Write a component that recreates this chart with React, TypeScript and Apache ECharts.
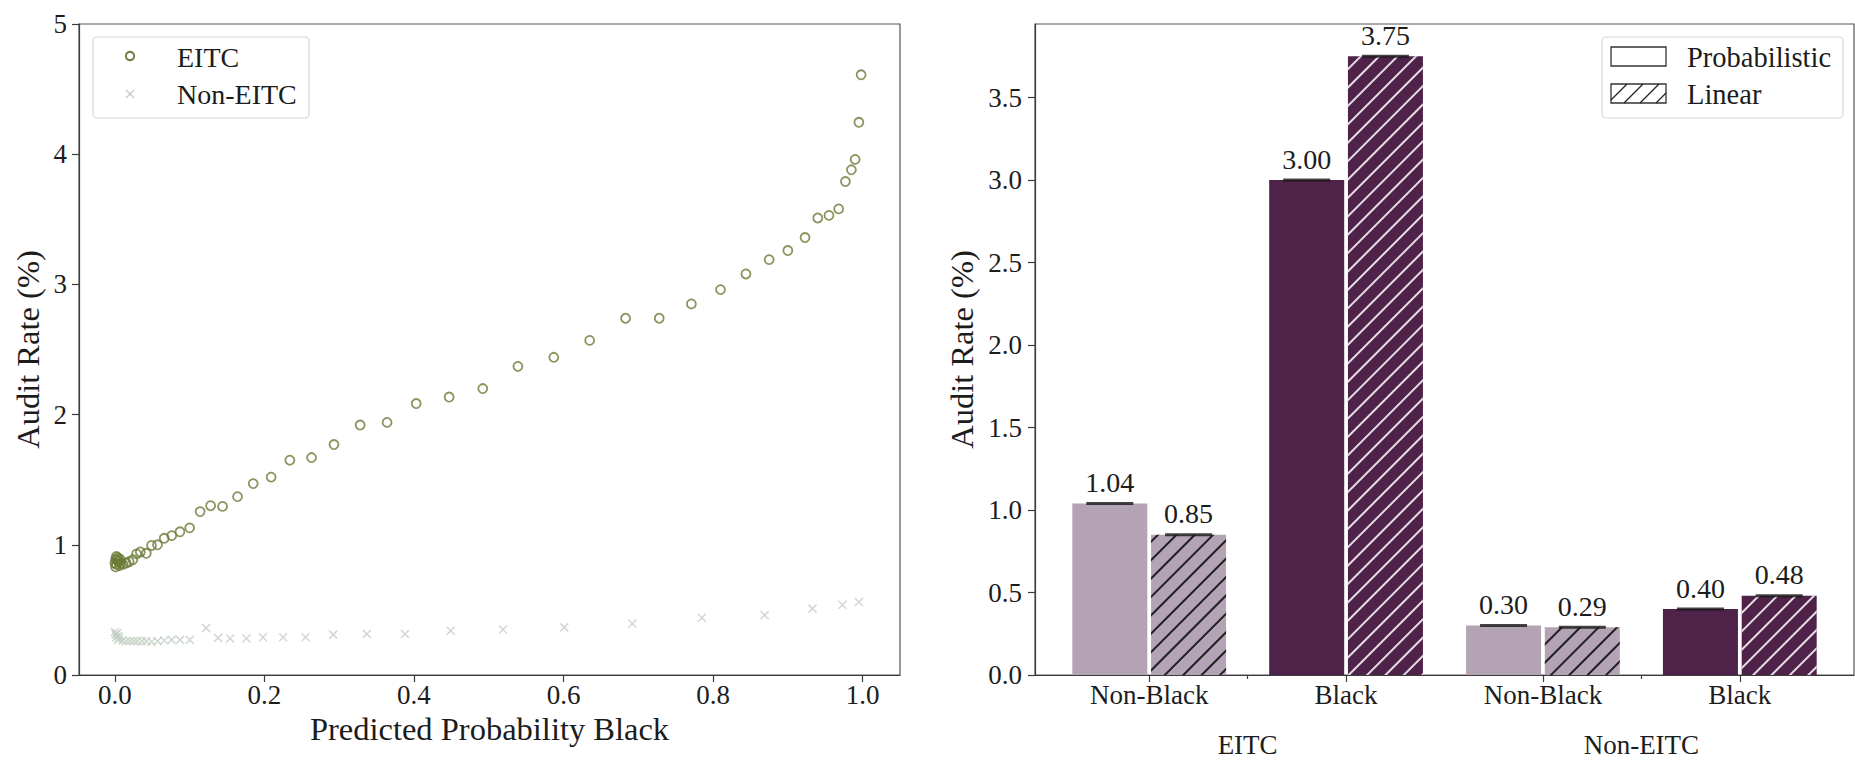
import React, { useEffect, useRef } from 'react';
import * as echarts from 'echarts';

// ---------- Data ----------
const eitcX = [0.000, 0.001, 0.001, 0.002, 0.002, 0.003, 0.004, 0.005, 0.006, 0.007, 0.008,
  0.011, 0.015, 0.019, 0.024, 0.029, 0.034, 0.042, 0.049, 0.057, 0.066, 0.076, 0.087, 0.100,
  0.114, 0.128, 0.144, 0.164, 0.185, 0.209, 0.234, 0.263, 0.293, 0.328, 0.364, 0.403, 0.447,
  0.492, 0.539, 0.587, 0.635, 0.683, 0.728, 0.771, 0.810, 0.844, 0.875, 0.900, 0.923, 0.940,
  0.955, 0.968, 0.977, 0.985, 0.990, 0.995, 0.998];
const eitcY = [0.86, 0.83, 0.89, 0.91, 0.85, 0.88, 0.90, 0.87, 0.84, 0.89, 0.86,
  0.85, 0.86, 0.87, 0.885, 0.93, 0.945, 0.935, 0.995, 1.00, 1.05, 1.07, 1.10, 1.13,
  1.255, 1.30, 1.295, 1.37, 1.47, 1.52, 1.65, 1.67, 1.77, 1.92, 1.94, 2.085, 2.135,
  2.20, 2.37, 2.44, 2.57, 2.74, 2.74, 2.85, 2.96, 3.08, 3.19, 3.26, 3.36, 3.51,
  3.53, 3.58, 3.79, 3.88, 3.96, 4.245, 4.61];

const nonEitcX = [0.000, 0.001, 0.002, 0.003, 0.004, 0.005, 0.006,
  0.010, 0.015, 0.020, 0.025, 0.030, 0.036, 0.042, 0.049, 0.057, 0.066, 0.076, 0.087, 0.100,
  0.122, 0.138, 0.154, 0.176, 0.198, 0.225, 0.255, 0.292, 0.337, 0.388, 0.449, 0.519,
  0.601, 0.692, 0.785, 0.869, 0.933, 0.973, 0.995];
const nonEitcY = [0.33, 0.31, 0.29, 0.32, 0.27, 0.30, 0.28,
  0.265, 0.26, 0.26, 0.26, 0.26, 0.26, 0.26, 0.255, 0.26, 0.265, 0.27, 0.27, 0.27,
  0.36, 0.285, 0.28, 0.28, 0.29, 0.29, 0.29, 0.31, 0.315, 0.315, 0.34, 0.35,
  0.366, 0.395, 0.44, 0.46, 0.51, 0.54, 0.56];

const leftXTicks = [0, 0.2, 0.4, 0.6, 0.8, 1.0];
const leftYTicks = [0, 1, 2, 3, 4, 5];

const barCats = ['Non-Black', 'Black', 'Non-Black', 'Black'];
const groupNames = ['EITC', 'Non-EITC'];
const groupPos = [0.5, 2.5];
const probVals = [1.04, 3.00, 0.30, 0.40];
const linVals = [0.85, 3.75, 0.29, 0.48];
const rightYTicks = [0, 0.5, 1.0, 1.5, 2.0, 2.5, 3.0, 3.5];

// ---------- Style ----------
const FONT = 'Liberation Serif';
const TXT = '#1c1c1c';
const AX = '#3c3c3c';
const OLIVE = '#6b7b36';
const CROSS = '#c4cfc4';
const raceColor: Record<string, string> = { 'Non-Black': '#b4a3b4', Black: '#4e2249' };
const hatchColor: Record<string, string> = { 'Non-Black': '#1e1e1e', Black: 'rgba(255,255,255,0.85)' };

function hatchLines(x0: number, y0: number, w: number, h: number, sp: number) {
  const out: any[] = [];
  for (let s = -h; s < w; s += sp) {
    const tmin = Math.max(0, -s);
    const tmax = Math.min(h, w - s);
    if (tmin < tmax) {
      out.push({
        type: 'line',
        shape: { x1: x0 + s + tmin, y1: y0 + h - tmin, x2: x0 + s + tmax, y2: y0 + h - tmax },
        style: { stroke: '#222', lineWidth: 1.2 },
      });
    }
  }
  return out;
}

export default function App() {
  const ref = useRef<HTMLDivElement>(null);
  useEffect(() => {
    const chart = echarts.init(ref.current!, null, { renderer: 'svg' });
    const labelBase = { fontFamily: FONT, color: TXT, fontSize: 27 };
    const option: any = {
      animation: false,
      backgroundColor: '#fff',
      textStyle: { fontFamily: FONT, color: TXT },
      grid: [
        { left: 79, top: 24, width: 821, height: 651, show: true, borderColor: '#555', borderWidth: 1.2, backgroundColor: 'transparent' },
        { left: 1035, top: 24, width: 819, height: 651, show: true, borderColor: '#555', borderWidth: 1.2, backgroundColor: 'transparent' },
      ],
      xAxis: [
        {
          type: 'value', gridIndex: 0, min: -0.048, max: 1.05, position: 'bottom',
          axisLine: { show: true, onZero: false, lineStyle: { color: AX, width: 1.2 } },
          axisTick: { show: true, length: 7, customValues: leftXTicks, lineStyle: { color: AX, width: 1.2 } },
          axisLabel: { ...labelBase, margin: 6, customValues: leftXTicks, formatter: (v: number) => v.toFixed(1) },
          splitLine: { show: false },
          name: 'Predicted Probability Black', nameLocation: 'middle', nameGap: 32,
          nameTextStyle: { fontFamily: FONT, color: TXT, fontSize: 32.5 },
        },
        {
          type: 'value', gridIndex: 1, min: -0.58, max: 3.58, position: 'bottom',
          axisLine: { show: true, onZero: false, lineStyle: { color: AX, width: 1.2 } },
          axisTick: { show: true, length: 7, customValues: [0, 1, 2, 3], lineStyle: { color: AX, width: 1.2 } },
          axisLabel: { ...labelBase, margin: 6, customValues: [0, 1, 2, 3], formatter: (v: number) => barCats[Math.round(v)] },
          splitLine: { show: false },
        },
        {
          type: 'value', gridIndex: 1, min: -0.58, max: 3.58, position: 'bottom',
          axisLine: { show: false },
          axisTick: { show: true, length: 4, customValues: groupPos, lineStyle: { color: AX, width: 1.2 } },
          axisLabel: { ...labelBase, margin: 56, customValues: groupPos, formatter: (v: number) => groupNames[Math.round((v - 0.5) / 2)] },
          splitLine: { show: false },
        },
      ],
      yAxis: [
        {
          type: 'value', gridIndex: 0, min: 0, max: 5,
          axisLine: { show: true, onZero: false, lineStyle: { color: AX, width: 1.2 } },
          axisTick: { show: true, length: 7, customValues: leftYTicks, lineStyle: { color: AX, width: 1.2 } },
          axisLabel: { ...labelBase, margin: 12, customValues: leftYTicks, formatter: (v: number) => String(v) },
          splitLine: { show: false },
          name: 'Audit Rate (%)', nameLocation: 'middle', nameGap: 35,
          nameTextStyle: { fontFamily: FONT, color: TXT, fontSize: 32.5 },
        },
        {
          type: 'value', gridIndex: 1, min: 0, max: 3.946,
          axisLine: { show: true, onZero: false, lineStyle: { color: AX, width: 1.2 } },
          axisTick: { show: true, length: 7, customValues: rightYTicks, lineStyle: { color: AX, width: 1.2 } },
          axisLabel: { ...labelBase, margin: 13, customValues: rightYTicks, formatter: (v: number) => v.toFixed(1) },
          splitLine: { show: false },
          name: 'Audit Rate (%)', nameLocation: 'middle', nameGap: 57,
          nameTextStyle: { fontFamily: FONT, color: TXT, fontSize: 32.5 },
        },
      ],
      series: [
        {
          name: 'EITC', type: 'scatter', xAxisIndex: 0, yAxisIndex: 0,
          data: eitcX.map((x, i) => [x, eitcY[i]]),
          symbol: 'circle', symbolSize: 9,
          itemStyle: { color: 'rgba(0,0,0,0)', borderColor: OLIVE, borderWidth: 1.8 },
          z: 3,
        },
        {
          name: 'Non-EITC', type: 'scatter', xAxisIndex: 0, yAxisIndex: 0,
          data: nonEitcX.map((x, i) => [x, nonEitcY[i]]),
          symbol: 'path://M0 0L10 10M10 0L0 10', symbolSize: 8,
          itemStyle: { color: 'none', borderColor: CROSS, borderWidth: 1.5 },
          z: 2,
        },
        {
          name: 'Probabilistic', type: 'bar', xAxisIndex: 1, yAxisIndex: 1,
          barWidth: 75, barGap: '-100%',
          data: barCats.map((c, i) => ({ value: [i - 0.2, probVals[i]], itemStyle: { color: raceColor[c] } })),
          label: { show: true, position: 'top', distance: 7, fontFamily: FONT, color: TXT, fontSize: 28,
            formatter: (p: any) => p.value[1].toFixed(2) },
        },
        {
          name: 'Linear', type: 'bar', xAxisIndex: 1, yAxisIndex: 1,
          barWidth: 75, barGap: '-100%',
          data: barCats.map((c, i) => ({
            value: [i + 0.2, linVals[i]],
            itemStyle: {
              color: raceColor[c],
              decal: { symbol: 'rect', symbolSize: 1, dashArrayX: [1, 0], dashArrayY: [1.5, 10.3], rotation: -Math.PI / 4, color: hatchColor[c] },
            },
          })),
          label: { show: true, position: 'top', distance: 7, fontFamily: FONT, color: TXT, fontSize: 28,
            formatter: (p: any) => p.value[1].toFixed(2) },
        },
        {
          name: 'caps', type: 'scatter', xAxisIndex: 1, yAxisIndex: 1,
          data: [...barCats.map((c, i) => [i - 0.2, probVals[i]]), ...barCats.map((c, i) => [i + 0.2, linVals[i]])],
          symbol: 'rect', symbolSize: [47, 3],
          itemStyle: { color: '#151515' }, z: 4, silent: true,
        },
      ],
      graphic: [
        { type: 'rect', shape: { x: 93, y: 37, width: 216, height: 81, r: 4 }, style: { fill: 'rgba(255,255,255,0.8)', stroke: '#d6d6d6', lineWidth: 1.2 }, z: 10 },
        { type: 'circle', shape: { cx: 130, cy: 56, r: 4.2 }, style: { fill: 'none', stroke: OLIVE, lineWidth: 1.8 }, z: 11 },
        { type: 'line', shape: { x1: 126, y1: 90, x2: 134, y2: 98 }, style: { stroke: CROSS, lineWidth: 1.5 }, z: 11 },
        { type: 'line', shape: { x1: 134, y1: 90, x2: 126, y2: 98 }, style: { stroke: CROSS, lineWidth: 1.5 }, z: 11 },
        { type: 'text', x: 177, y: 57, style: { text: 'EITC', fontFamily: FONT, fontSize: 28, fill: TXT, verticalAlign: 'middle' }, z: 11 },
        { type: 'text', x: 177, y: 94, style: { text: 'Non-EITC', fontFamily: FONT, fontSize: 28, fill: TXT, verticalAlign: 'middle' }, z: 11 },

        { type: 'rect', shape: { x: 1602, y: 37, width: 241, height: 81, r: 4 }, style: { fill: 'rgba(255,255,255,0.8)', stroke: '#d6d6d6', lineWidth: 1.2 }, z: 10 },
        { type: 'rect', shape: { x: 1611, y: 47, width: 55, height: 19 }, style: { fill: '#fff', stroke: '#333', lineWidth: 1.3 }, z: 11 },
        { type: 'rect', shape: { x: 1611, y: 84, width: 55, height: 19 }, style: { fill: '#fff', stroke: '#333', lineWidth: 1.3 }, z: 11 },
        ...hatchLines(1611, 84, 55, 19, 16).map((l) => ({ ...l, z: 12 })),
        { type: 'text', x: 1687, y: 57, style: { text: 'Probabilistic', fontFamily: FONT, fontSize: 28.5, fill: TXT, verticalAlign: 'middle' }, z: 11 },
        { type: 'text', x: 1687, y: 94, style: { text: 'Linear', fontFamily: FONT, fontSize: 28.5, fill: TXT, verticalAlign: 'middle' }, z: 11 },
      ],
    };
    chart.setOption(option);
    return () => chart.dispose();
  }, []);
  return <div ref={ref} style={{ position: 'fixed', left: 0, top: 0, width: 1855, height: 760, background: '#fff' }} />;
}
